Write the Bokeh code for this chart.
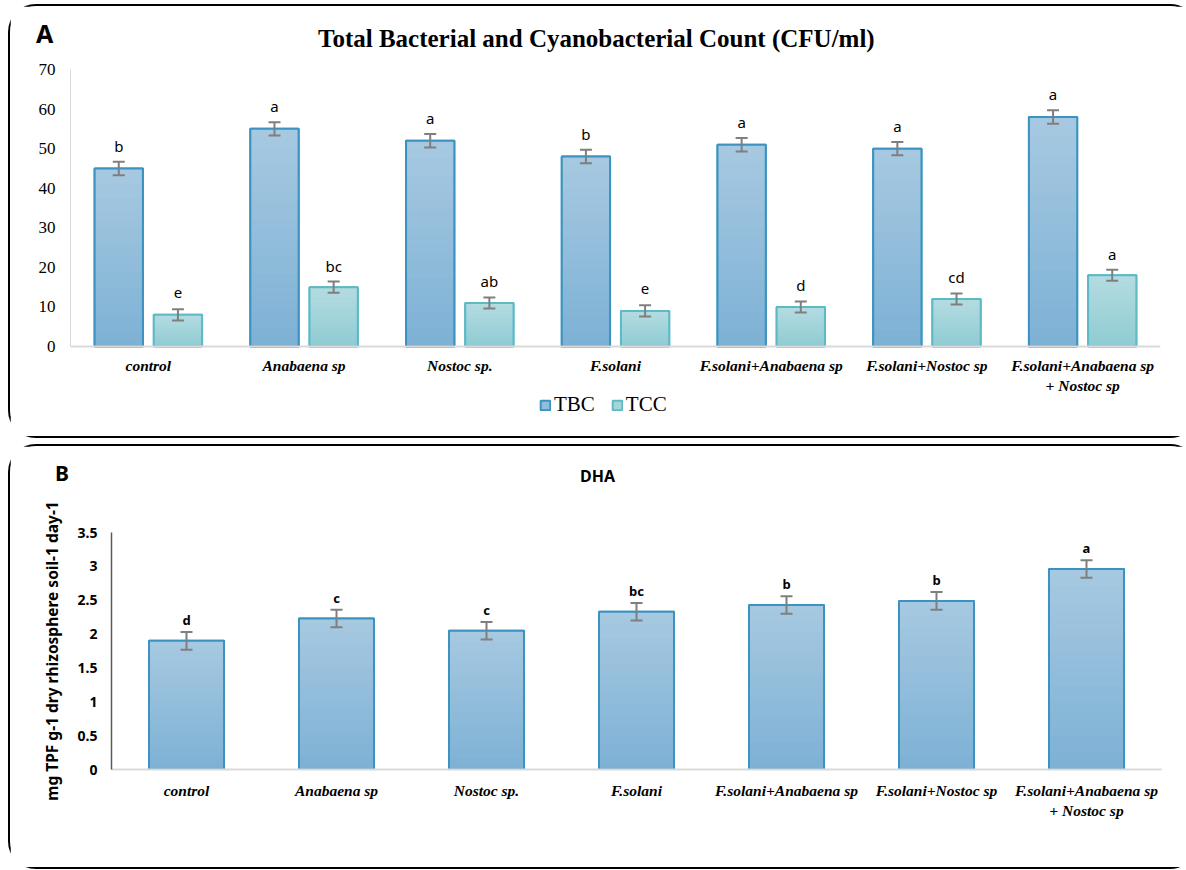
from bokeh.plotting import figure
from bokeh.models import Range1d, FixedTicker, ColumnDataSource, Legend, LegendItem, Div
from bokeh.core.properties import value
from bokeh.embed import file_html
from bokeh.resources import INLINE

# ---- data ----
treatments = ["control", "Anabaena sp", "Nostoc sp.", "F.solani",
              "F.solani+Anabaena sp", "F.solani+Nostoc sp",
              "F.solani+Anabaena sp\n+ Nostoc sp"]

tbc = [45, 55, 52, 48, 51, 50, 58]
tbc_err = [1.7, 1.7, 1.7, 1.7, 1.7, 1.7, 1.7]
tbc_letters = ["b", "a", "a", "b", "a", "a", "a"]

tcc = [8, 15, 11, 9, 10, 12, 18]
tcc_err = [1.4, 1.4, 1.4, 1.4, 1.4, 1.4, 1.4]
tcc_letters = ["e", "bc", "ab", "e", "d", "cd", "a"]

dha = [1.90, 2.23, 2.05, 2.33, 2.43, 2.49, 2.96]
dha_err = [0.13, 0.13, 0.13, 0.13, 0.13, 0.13, 0.13]
dha_letters = ["d", "c", "c", "bc", "b", "b", "a"]

count_ticks = [0, 10, 20, 30, 40, 50, 60, 70]
dha_ticks = [0, 0.5, 1, 1.5, 2, 2.5, 3, 3.5]
dha_tick_labels = ["0", "0.5", "1", "1.5", "2", "2.5", "3", "3.5"]

# ---- styling ----
TBC_TOP, TBC_BOTTOM, TBC_FILL, TBC_LINE = "#a7c9e1", "#7db1d5", "#93bedb", "#3a93c0"
TCC_TOP, TCC_BOTTOM, TCC_FILL, TCC_LINE = "#b4dce1", "#8fcbd3", "#a5d5da", "#5cbac6"
ERR_COLOR = "#7f7f7f"
SERIF = "Liberation Serif"
SANS = "Noto Sans"
PANEL_STYLE = {"border": "2px solid #000000", "border-radius": "28px",
               "background": "#ffffff"}

xs = list(range(len(treatments)))
x_labels = {i: t for i, t in enumerate(treatments)}


def mix(c0, c1, t):
    a = [int(c0[i:i + 2], 16) for i in (1, 3, 5)]
    b = [int(c1[i:i + 2], 16) for i in (1, 3, 5)]
    return "#%02x%02x%02x" % tuple(round(u + (w - u) * t) for u, w in zip(a, b))


def gradient_bars(p, xpos, values, width, c_top, c_bottom, fill, line, steps=24):
    """Bar with a vertical colour ramp: a plain bar (used by the legend),
    nested shorter bars painted tallest first, then the outline on top."""
    base = p.vbar(x=xpos, top=values, bottom=0, width=width,
                  fill_color=fill, line_color=line, line_width=2)
    gx, gtop, gcol = [], [], []
    for k in range(steps):
        share = (steps - k) / steps
        col = mix(c_bottom, c_top, (steps - k - 0.5) / steps)
        for x, v in zip(xpos, values):
            gx.append(x)
            gtop.append(v * share)
            gcol.append(col)
    p.vbar(x=gx, top=gtop, bottom=0, width=width, fill_color=gcol, line_color=None)
    p.vbar(x=xpos, top=values, bottom=0, width=width,
           fill_color=None, line_color=line, line_width=2)
    return base


def style_x_axis(p, standoff):
    ax = p.xaxis[0]
    ax.ticker = FixedTicker(ticks=xs)
    ax.major_label_overrides = x_labels
    ax.major_label_text_font = SERIF
    ax.major_label_text_font_style = "bold italic"
    ax.major_label_text_font_size = "15.5px"
    ax.major_label_text_color = "#000000"
    ax.major_label_standoff = standoff
    ax.major_tick_in = 0
    ax.major_tick_out = 0
    ax.minor_tick_in = 0
    ax.minor_tick_out = 0
    ax.axis_line_color = "#d9d9d9"
    ax.axis_line_width = 2


def style_y_axis(p, ticks, font, style, size, standoff, line_color, line_width):
    ax = p.yaxis[0]
    ax.ticker = FixedTicker(ticks=ticks)
    ax.major_label_text_font = font
    ax.major_label_text_font_style = style
    ax.major_label_text_font_size = size
    ax.major_label_text_color = "#000000"
    ax.major_label_standoff = standoff
    ax.major_tick_in = 0
    ax.major_tick_out = 0
    ax.minor_tick_in = 0
    ax.minor_tick_out = 0
    ax.axis_line_color = line_color
    ax.axis_line_width = line_width


def error_bars(p, src, xcol, hi, lo, cap):
    # stem plus top and bottom caps, all from the same error columns
    p.segment(x0=xcol, x1=xcol, y0=lo, y1=hi, source=src,
              line_color=ERR_COLOR, line_width=2)
    for end in (hi, lo):
        p.scatter(x=xcol, y=end, marker="dash", size=cap, source=src,
                  line_color=ERR_COLOR, line_width=2)


def caption(text, left, top, font, size, weight="bold"):
    return Div(text=text, styles={
        "position": "absolute", "left": f"{left}px", "top": f"{top}px",
        "font-family": font, "font-size": f"{size}px", "font-weight": weight,
        "line-height": "1", "white-space": "nowrap", "color": "#000000",
        "margin": "0", "padding": "0"})


# ================= Panel A =================
# The frame reaches down past the category labels so that the legend
# sits inside it; the value axis is bounded to 0-70 and the category
# axis is pinned at zero.
A_TOP = 70
A_AXIS_PX = 277          # height of the 0-70 span
A_FRAME_PX = 361         # whole frame, legend strip included
a_low = -(A_FRAME_PX - A_AXIS_PX) * A_TOP / A_AXIS_PX

pA = figure(frame_width=1090, frame_height=A_FRAME_PX,
            min_border_left=60, min_border_right=36,
            min_border_top=63, min_border_bottom=6,
            x_range=Range1d(-0.5, 6.5), y_range=Range1d(a_low, A_TOP),
            output_backend="svg", toolbar_location=None,
            styles=PANEL_STYLE, margin=(4, 0, 0, 8))
pA.xgrid.grid_line_color = None
pA.ygrid.grid_line_color = None
pA.outline_line_color = None

offset = 0.19
bar_w = 0.31
x_tbc = [x - offset for x in xs]
x_tcc = [x + offset for x in xs]
srcA = ColumnDataSource(dict(
    x_tbc=x_tbc, x_tcc=x_tcc,
    tbc_hi=[v + e for v, e in zip(tbc, tbc_err)],
    tbc_lo=[v - e for v, e in zip(tbc, tbc_err)],
    tcc_hi=[v + e for v, e in zip(tcc, tcc_err)],
    tcc_lo=[v - e for v, e in zip(tcc, tcc_err)],
    tbc_letters=tbc_letters, tcc_letters=tcc_letters))

r_tbc = gradient_bars(pA, x_tbc, tbc, bar_w, TBC_TOP, TBC_BOTTOM, TBC_FILL, TBC_LINE)
r_tcc = gradient_bars(pA, x_tcc, tcc, bar_w, TCC_TOP, TCC_BOTTOM, TCC_FILL, TCC_LINE)

error_bars(pA, srcA, "x_tbc", "tbc_hi", "tbc_lo", 12)
error_bars(pA, srcA, "x_tcc", "tcc_hi", "tcc_lo", 12)

for xcol, ycol, tcol in (("x_tbc", "tbc_hi", "tbc_letters"), ("x_tcc", "tcc_hi", "tcc_letters")):
    pA.text(x=xcol, y=ycol, text=tcol, source=srcA, text_align="center",
            text_baseline="alphabetic", y_offset=-16,
            text_font=value(SANS), text_font_size="15px", text_color="#000000")

style_y_axis(pA, count_ticks, SERIF, "normal", "17px", 15, "#d9d9d9", 1)
pA.yaxis.bounds = (0, A_TOP)
style_x_axis(pA, 10)
pA.xaxis.fixed_location = 0

legend = Legend(items=[LegendItem(label="TBC", renderers=[r_tbc]),
                       LegendItem(label="TCC", renderers=[r_tcc])],
                location=(469, 13), orientation="horizontal",
                glyph_width=12, glyph_height=12, label_standoff=3, spacing=16,
                padding=0, margin=0, border_line_color=None,
                background_fill_alpha=0,
                label_text_font=SERIF, label_text_font_size="21px",
                label_text_color="#000000")
pA.add_layout(legend)

# ================= Panel B =================
pB = figure(frame_width=1050, frame_height=237,
            min_border_left=101, min_border_right=35,
            min_border_top=86, min_border_bottom=98,
            x_range=Range1d(-0.5, 6.5), y_range=Range1d(0, 3.5),
            output_backend="svg", toolbar_location=None,
            styles=PANEL_STYLE, margin=(6, 0, 0, 8))
pB.xgrid.grid_line_color = None
pB.ygrid.grid_line_color = None
pB.outline_line_color = None

srcB = ColumnDataSource(dict(
    x=xs,
    hi=[v + e for v, e in zip(dha, dha_err)],
    lo=[v - e for v, e in zip(dha, dha_err)],
    letters=dha_letters))

gradient_bars(pB, xs, dha, 0.5, TBC_TOP, TBC_BOTTOM, TBC_FILL, TBC_LINE)
error_bars(pB, srcB, "x", "hi", "lo", 12)
pB.text(x="x", y="hi", text="letters", source=srcB, text_align="center",
        text_baseline="alphabetic", y_offset=-12,
        text_font=value(SANS), text_font_style="bold", text_font_size="13px",
        text_color="#000000")

style_y_axis(pB, dha_ticks, SANS, "bold", "14px", 14, "#595959", 1.5)
pB.yaxis.major_label_overrides = {t: l for t, l in zip(dha_ticks, dha_tick_labels)}
pB.yaxis.axis_label = "mg TPF g-1 dry rhizosphere soil-1 day-1"
pB.yaxis.axis_label_text_font = SANS
pB.yaxis.axis_label_text_font_style = "bold"
pB.yaxis.axis_label_text_font_size = "15.5px"
pB.yaxis.axis_label_text_color = "#000000"
pB.yaxis.axis_label_standoff = 12
style_x_axis(pB, 12)

# ---- panel letters and titles ----
captions = [
    caption("A", 36, 21, SANS, 25),
    caption("Total Bacterial and Cyanobacterial Count (CFU/ml)", 318, 26, SERIF, 25),
    caption("B", 55, 463, SANS, 21),
    caption("DHA", 580, 468, SANS, 16),
]

open("out.html", "w").write(file_html([pA, pB] + captions, INLINE))
